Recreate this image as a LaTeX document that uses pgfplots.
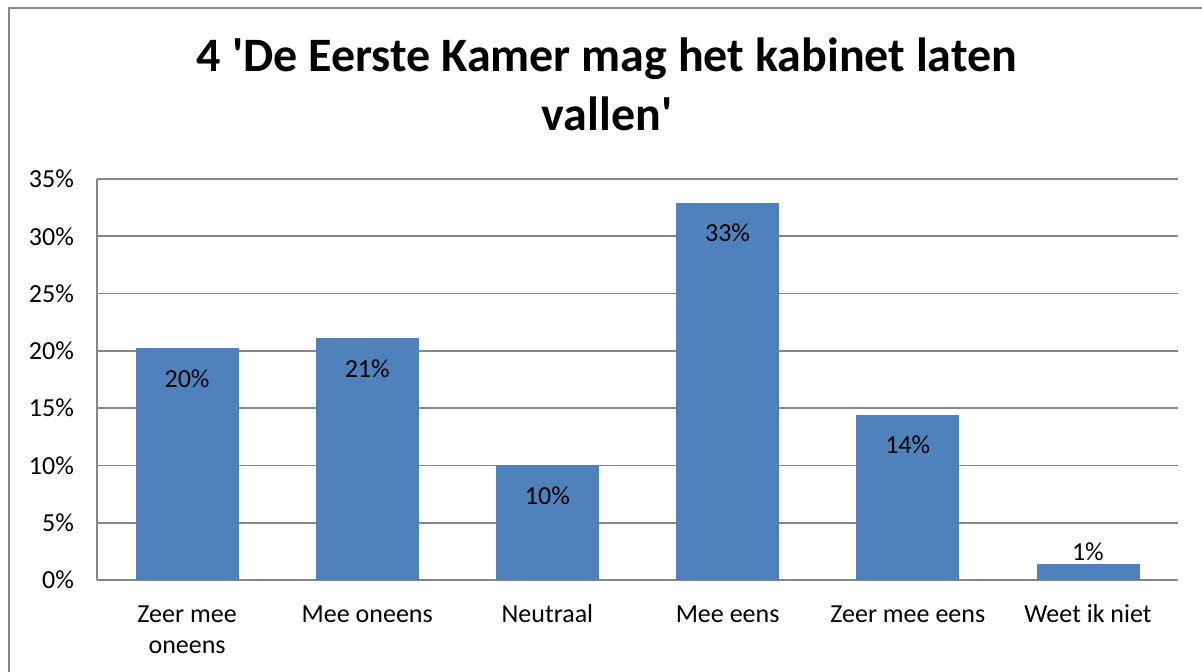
\documentclass[border=0pt]{standalone}
\usepackage{fontspec}
\setmainfont{Carlito}
\usepackage{pgfplots}
\pgfplotsset{compat=1.18}
\definecolor{barblue}{HTML}{4F81BD}
\definecolor{gridgray}{HTML}{868686}
\begin{document}
\begin{tikzpicture}
\useasboundingbox (0,0) rectangle (601pt,336pt);
\clip (0,0) rectangle (601pt,336pt);
\fill[white] (0,0) rectangle (601pt,336pt);
\draw[gridgray, line width=1pt] (4.5pt,-10pt) -- (4.5pt,332pt) -- (620pt,332pt);
\node[anchor=base, font=\fontsize{24}{28}\selectfont\bfseries] at (303.5pt,300pt) {4 \textquotesingle De Eerste Kamer mag het kabinet laten};
\node[anchor=base, font=\fontsize{24}{28}\selectfont\bfseries] at (303.5pt,270.5pt) {vallen\textquotesingle};
\begin{axis}[
  at={(48.5pt,46pt)}, anchor=south west,
  scale only axis, width=540.5pt, height=200.5pt,
  xmin=-0.5, xmax=5.5, ymin=0, ymax=35,
  axis x line*=bottom, axis y line*=left,
  axis line style={gridgray, line width=0.8pt, -},
  ymajorgrids, grid style={gridgray, line width=0.8pt},
  major tick length=0pt,
  xtick={0,1,2,3,4,5},
  xticklabels={{\strut Zeer mee\\oneens},{\strut Mee oneens},{\strut Neutraal},{\strut Mee eens},{\strut Zeer mee eens},{\strut Weet ik niet}},
  xticklabel style={align=center, font=\fontsize{13}{15.5}\selectfont, anchor=north, yshift=-7pt},
  ytick={0,5,10,15,20,25,30,35},
  yticklabels={0\%,5\%,10\%,15\%,20\%,25\%,30\%,35\%},
  yticklabel style={font=\fontsize{13}{16}\selectfont, xshift=-8pt},
  ybar, bar width=51pt,
  point meta=explicit symbolic,
  nodes near coords,
]
\addplot[fill=barblue, draw=barblue, bar shift=0pt,
  every node near coord/.style={anchor=center, yshift=-15pt, font=\fontsize{13}{16}\selectfont}]
  coordinates {(0,20.2) [20\%] (1,21.1) [21\%] (2,10.0) [10\%] (3,32.9) [33\%] (4,14.4) [14\%]};
\addplot[fill=barblue, draw=barblue, bar shift=0pt,
  every node near coord/.style={anchor=south, yshift=-2pt, font=\fontsize{13}{16}\selectfont}]
  coordinates {(5,1.4) [1\%]};
\end{axis}
\end{tikzpicture}
\end{document}
